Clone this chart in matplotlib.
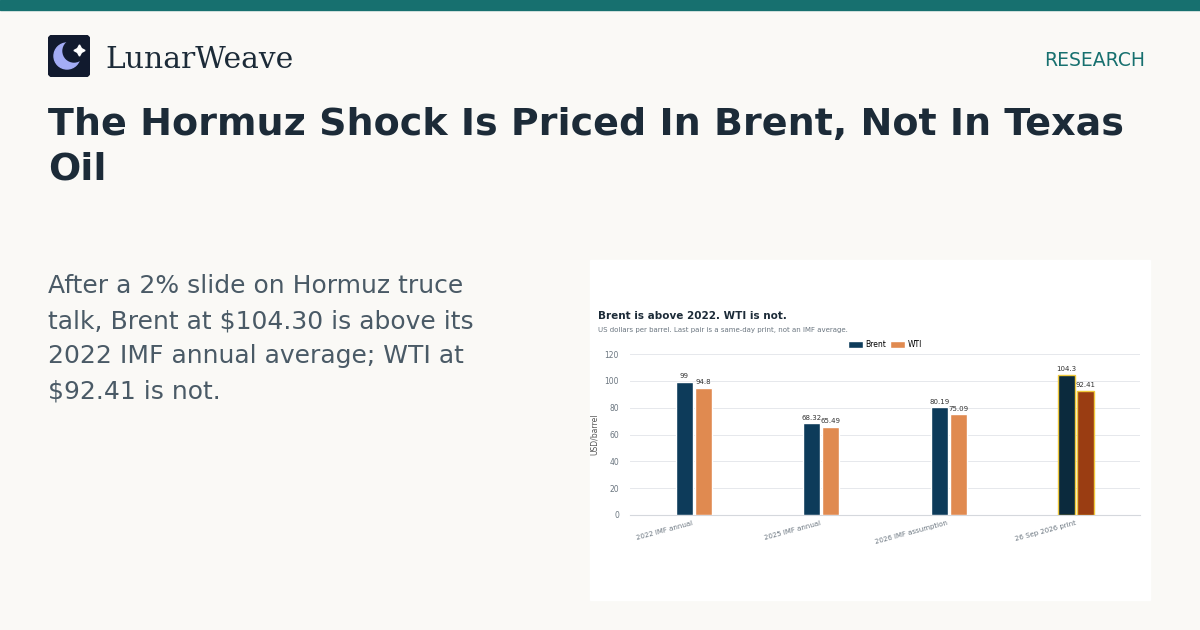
import matplotlib
matplotlib.use("Agg")
import matplotlib.pyplot as plt
from matplotlib.patches import FancyBboxPatch, Rectangle, Circle
import numpy as np

categories = ["2022 IMF annual", "2025 IMF annual", "2026 IMF assumption", "26 Sep 2026 print"]
brent = [99, 68.32, 80.19, 104.3]
wti = [94.8, 65.49, 75.09, 92.41]
yticks = [0, 20, 40, 60, 80, 100, 120]

W, H = 1200, 630
fig = plt.figure(figsize=(12, 6.3), dpi=100)
fig.patch.set_facecolor("#faf9f6")

def fx(x): return x / W
def fy(y): return 1 - y / H

# top band
fig.patches.append(Rectangle((0, fy(10)), 1, 10 / H, transform=fig.transFigure, color="#17706f", zorder=-5))
# logo
lax = fig.add_axes([fx(48), fy(77), 42 / W, 42 / H])
lax.set_xlim(0, 42); lax.set_ylim(42, 0); lax.axis("off")
lax.add_patch(FancyBboxPatch((0, 0), 42, 42, boxstyle="round,pad=0,rounding_size=6", color="#111a2e"))
lax.add_patch(Circle((19, 21), 13, color="#a3acf5"))
lax.add_patch(Circle((26, 16), 11, color="#111a2e"))
lax.plot([31], [15], marker=(4, 1, 0), color="white", markersize=8)
fig.text(fx(105), fy(60), "LunarWeave", family="DejaVu Serif", fontsize=21.4, color="#1c2b38", va="center")
fig.text(fx(1145), fy(60), "RESEARCH", fontsize=13.5, color="#17706f", ha="right", va="center")

fig.text(fx(48), fy(125), "The Hormuz Shock Is Priced In Brent, Not In Texas", fontsize=27.4, weight="bold",
         color="#1c2b38", va="center")
fig.text(fx(48), fy(170), "Oil", fontsize=27.4, weight="bold", color="#1c2b38", va="center")

body = ["After a 2% slide on Hormuz truce", "talk, Brent at $104.30 is above its",
        "2022 IMF annual average; WTI at", "$92.41 is not."]
for i, line in enumerate(body):
    fig.text(fx(48), fy(286 + 35 * i), line, fontsize=18, color="#4a5a66", va="center")

# panel
fig.patches.append(Rectangle((fx(590), fy(600)), 560 / W, 340 / H, transform=fig.transFigure, color="white", zorder=-5))
fig.text(fx(598), fy(316), "Brent is above 2022. WTI is not.", fontsize=7.5, weight="bold", color="#1c2b38", va="center")
fig.text(fx(598), fy(330), "US dollars per barrel. Last pair is a same-day print, not an IMF average.",
         fontsize=5, color="#6b7680", va="center")

ax = fig.add_axes([fx(630), fy(515), 510 / W, 161 / H])
ax.set_facecolor("white")
x = np.arange(len(categories))
bw = 0.135
bc = ["#0d3b5a"] * 3 + ["#0b2a3d"]
wc = ["#e08a50"] * 3 + ["#9a3d12"]
ec_b = ["white"] * 3 + ["#f0c93c"]
b1 = ax.bar(x - 0.075, brent, bw, color=bc, edgecolor=ec_b, linewidth=1, label="Brent", zorder=3)
b2 = ax.bar(x + 0.075, wti, bw, color=wc, edgecolor=ec_b, linewidth=1, label="WTI", zorder=3)
for bars, vals in ((b1, brent), (b2, wti)):
    for r, v in zip(bars, vals):
        ax.text(r.get_x() + r.get_width() / 2, v + 2, f"{v:g}", ha="center", va="bottom", fontsize=5, color="#333")
ax.set_xlim(-0.5, 3.5)
ax.set_ylim(0, 120)
ax.set_yticks(yticks)
ax.tick_params(axis="y", labelsize=5.5, colors="#6b7680", length=0, pad=8)
ax.set_xticks(x)
ax.set_xticklabels(categories, rotation=15, ha="right", fontsize=5, color="#6b7680")
ax.tick_params(axis="x", length=0)
ax.grid(axis="y", color="#e6e8ec", linewidth=0.7, zorder=0)
for s in ["top", "right", "left"]:
    ax.spines[s].set_visible(False)
ax.spines["bottom"].set_color("#d5d8dd")
ax.set_ylabel("USD/barrel", fontsize=5.5, color="#555")
ax.legend(handles=[b1[0], b2[0]], labels=["Brent", "WTI"], loc="lower center", bbox_to_anchor=(0.5, 1.0),
          ncol=2, frameon=False, fontsize=5.5, handlelength=2, handleheight=1, columnspacing=0.5, handletextpad=0.3,
          borderpad=0.1)

fig.savefig("out.png", dpi=100, facecolor=fig.get_facecolor())
